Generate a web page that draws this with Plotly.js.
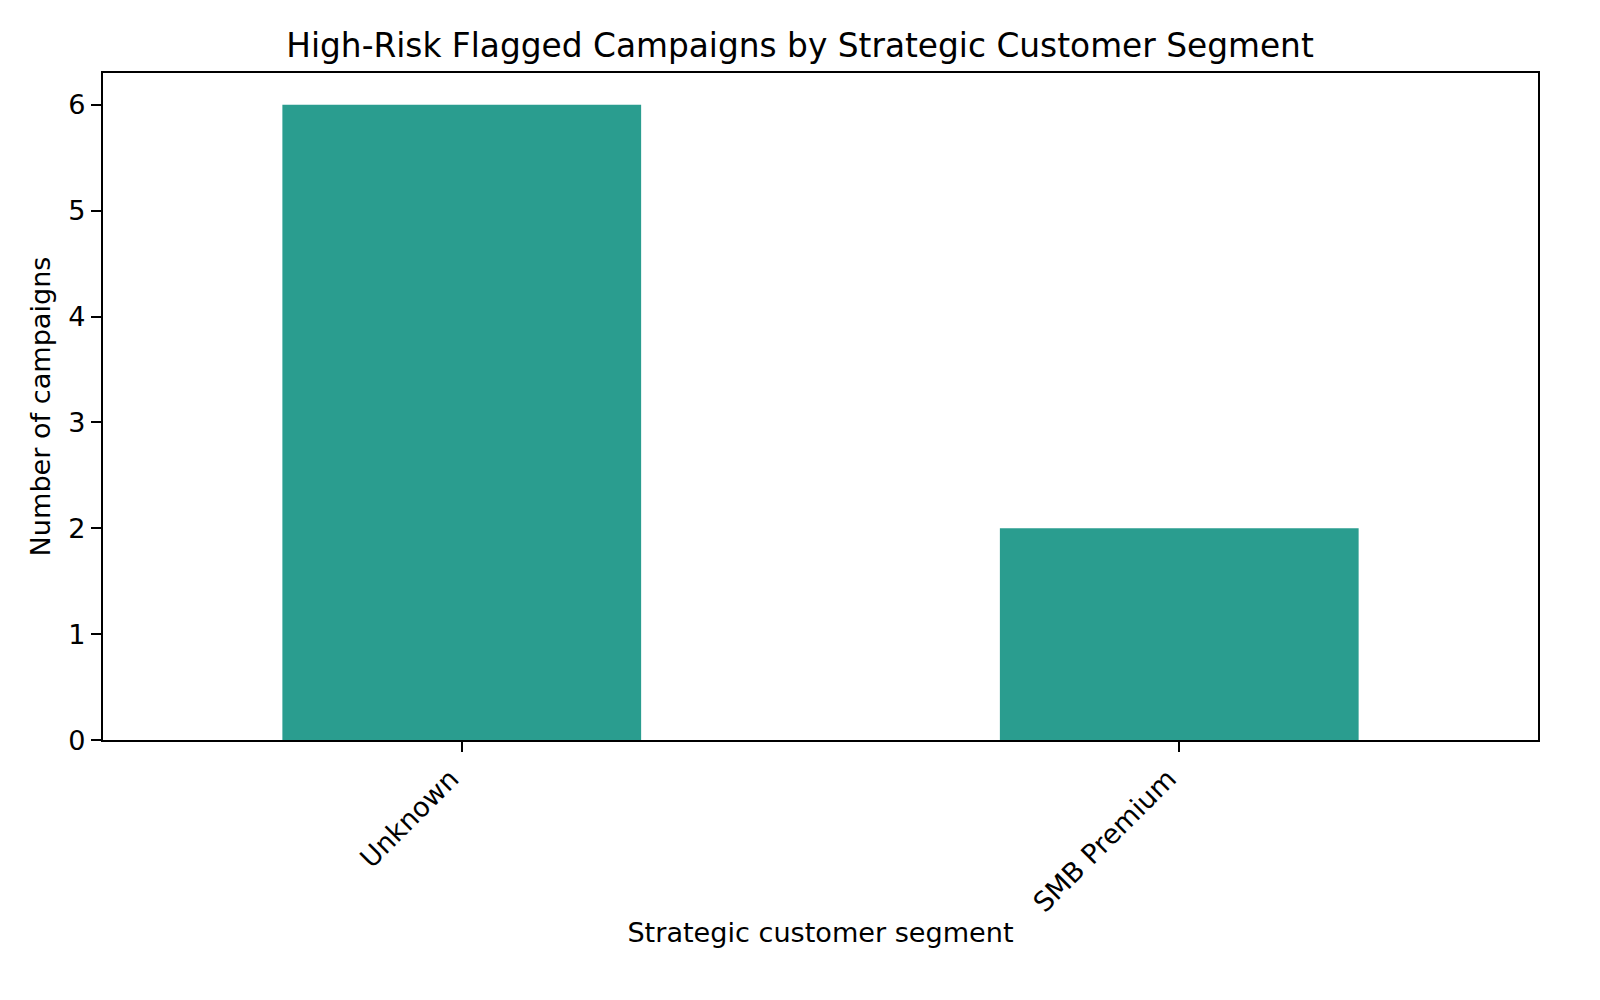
<!DOCTYPE html>
<html><head><meta charset="utf-8">
<script src="https://cdn.plot.ly/plotly-3.0.1.min.js"></script>
<style>html,body{margin:0;padding:0;background:#fff}#chart{width:1600px;height:1000px}</style>
</head><body><div id="chart"></div>
<script>
var categories = ["Unknown", "SMB Premium"];
var campaignCounts = [6, 2];
var barColor = "#2a9d8f";
var font = "DejaVu Sans, sans-serif";

var trace = {
  type: "bar",
  x: categories,
  y: campaignCounts,
  width: 0.5,
  marker: {color: barColor},
  hoverinfo: "x+y"
};
var layout = {
  width: 1600, height: 1000,
  paper_bgcolor: "#fff", plot_bgcolor: "#fff",
  margin: {l: 103, r: 62, t: 73, b: 260, pad: 0},
  font: {family: font, color: "#000", size: 27.1},
  title: {text: "High-Risk Flagged Campaigns by Strategic Customer Segment", font: {size: 32.8, family: font}, x: 0.5, xanchor: "center", y: 1 - 46/1000, yanchor: "middle"},
  showlegend: false,
  xaxis: {
    type: "category", range: [-0.5, 1.5],
    tickangle: -45, ticks: "outside", ticklen: 10, tickwidth: 2.2, tickcolor: "#000",
    ticklabelshift: -11,
    showline: true, linecolor: "#000", linewidth: 2.2, mirror: true,
    showgrid: false, zeroline: false, automargin: false,
    tickfont: {size: 27.1, family: font},
    title: {text: "Strategic customer segment", font: {size: 27.1, family: font}, standoff: 6}
  },
  yaxis: {
    range: [0, 6.3], dtick: 1,
    ticks: "outside", ticklen: 10, tickwidth: 2.2, tickcolor: "#000",
    showline: true, linecolor: "#000", linewidth: 2.2, mirror: true,
    showgrid: false, zeroline: false, automargin: false,
    tickfont: {size: 27.1, family: font},
    title: {text: "Number of campaigns", font: {size: 27.1, family: font}, standoff: 10}
  }
};
Plotly.newPlot("chart", [trace], layout, {displayModeBar: false});
</script></body></html>
